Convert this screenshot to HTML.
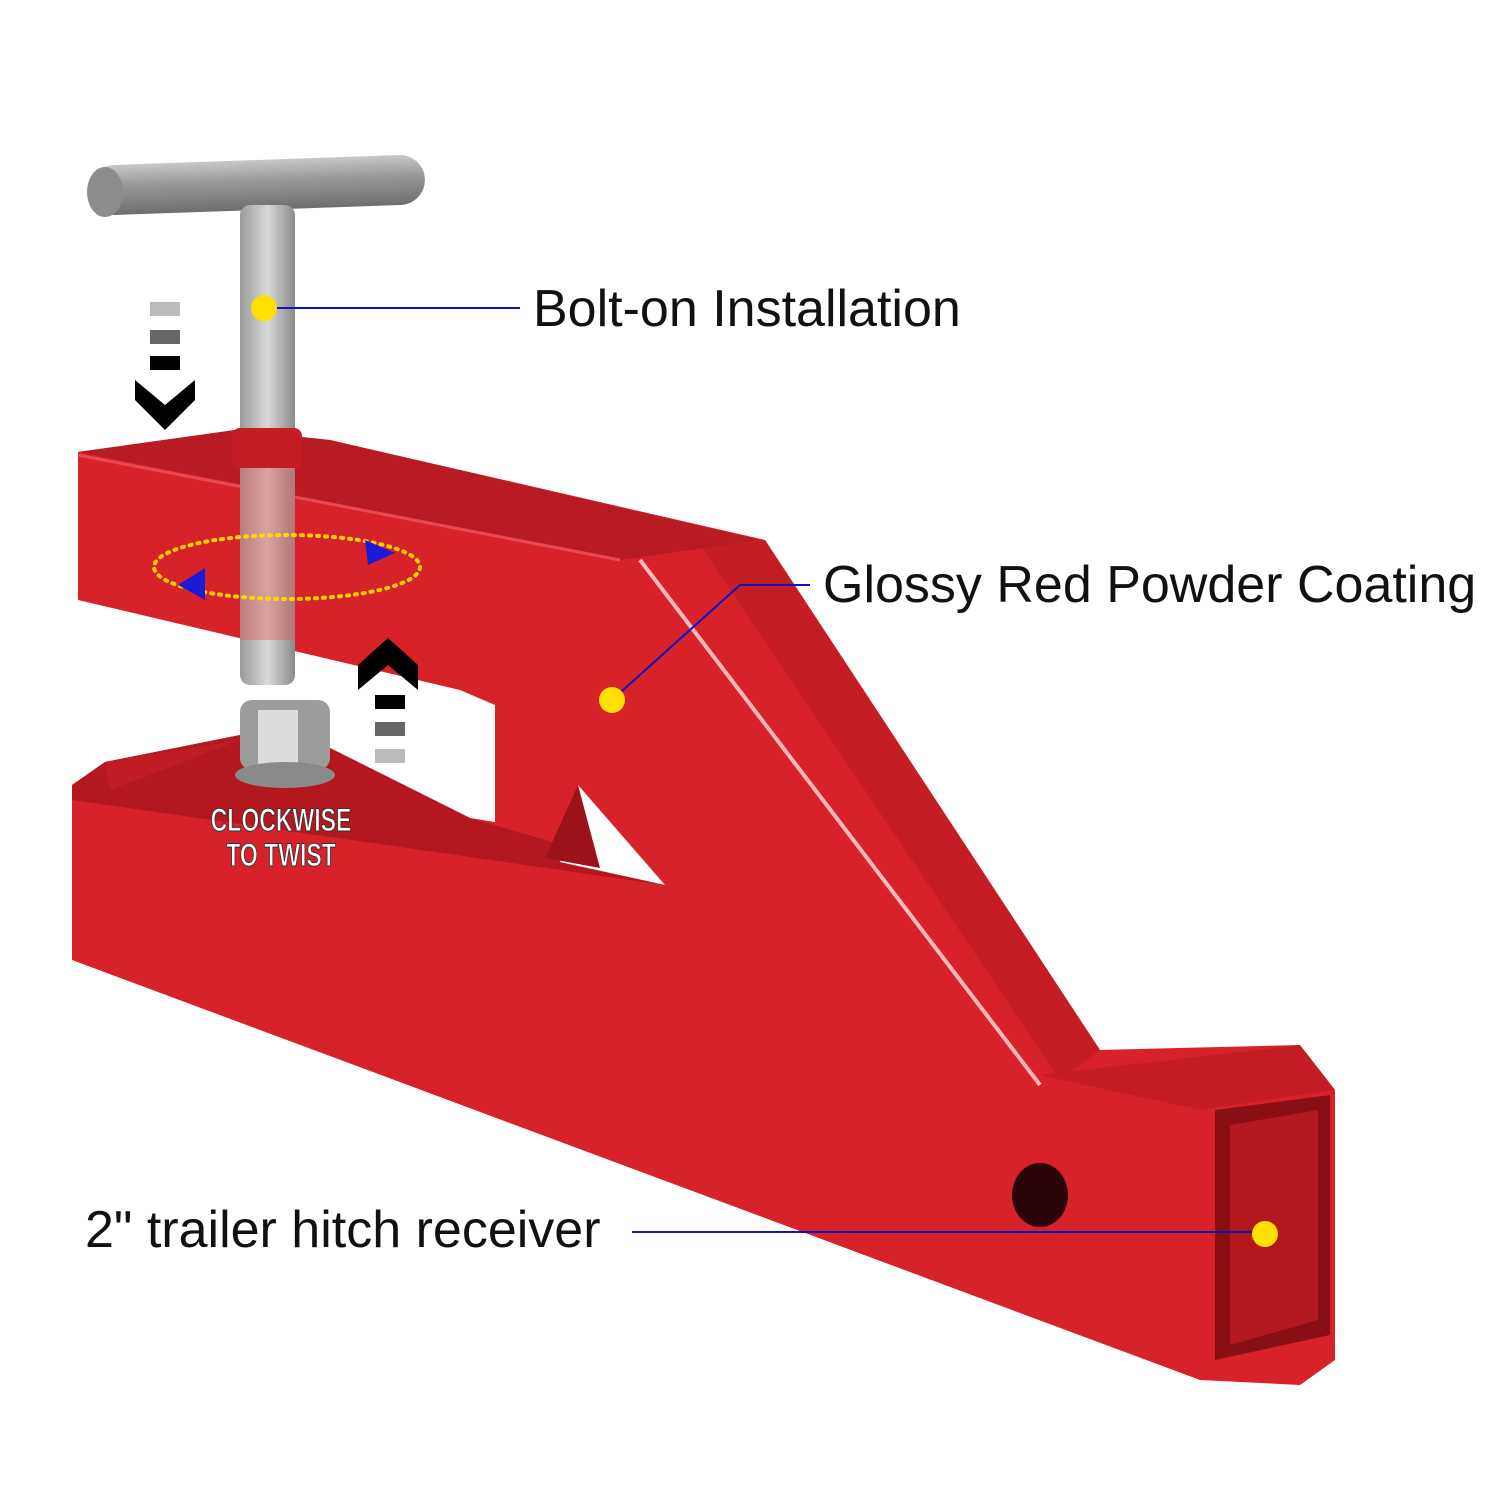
<!DOCTYPE html>
<html><head><meta charset="utf-8"><style>
html,body{margin:0;padding:0;background:#fff;}
svg{display:block;}
text{font-family:"Liberation Sans",Arial,sans-serif;}
</style></head><body>
<svg width="1500" height="1500" viewBox="0 0 1500 1500" xmlns="http://www.w3.org/2000/svg">
<defs>
<linearGradient id="cyl" x1="0" y1="0" x2="0" y2="1">
<stop offset="0" stop-color="#c8c8c8"/><stop offset="0.4" stop-color="#9a9a9a"/><stop offset="1" stop-color="#6e6e6e"/></linearGradient>
<linearGradient id="bolt" x1="0" y1="0" x2="1" y2="0">
<stop offset="0" stop-color="#9a9a9a"/><stop offset="0.5" stop-color="#d8d8d8"/><stop offset="1" stop-color="#8a8a8a"/></linearGradient>
</defs>
<rect width="1500" height="1500" fill="#fff"/>

<polygon points="78,452 235,430 330,440 765,540 1100,1050 1300,1045 1335,1090 1335,1360 1300,1385 1200,1380 72,960 72,785 78,600" fill="#d8222a"/>
<polygon points="60,598 78,600 460,690 495,705 495,822 470,818 330,748 240,735 105,762 72,785 60,785" fill="#fff"/>
<polygon points="72,785 105,762 240,735 330,748 470,818 580,850 665,885 72,800" fill="#b3181f"/>
<polygon points="105,762 110,790 240,740" fill="#c01c23"/>
<polygon points="578,785 665,885 560,862" fill="#fff"/>
<polygon points="578,785 545,858 600,868" fill="#9c1218"/>
<polygon points="700,545 765,540 1100,1050 1060,1080" fill="#c51d24"/>
<line x1="640" y1="560" x2="1040" y2="1085" stroke="#f6b8b8" stroke-width="4"/>
<polygon points="78,452 235,430 330,440 760,540 620,560" fill="#b81b22"/>
<line x1="78" y1="455" x2="620" y2="560" stroke="#e84a50" stroke-width="3"/>
<polygon points="1040,1075 1300,1045 1335,1090 1200,1110" fill="#c41e24"/>
<polygon points="1215,1110 1330,1095 1330,1335 1215,1360" fill="#8a0f14"/>
<polygon points="1230,1125 1318,1110 1318,1320 1230,1345" fill="#b3181f"/>
<ellipse cx="1040" cy="1195" rx="28" ry="32" fill="#2a0406"/>

<rect x="90" y="160" width="335" height="50" rx="25" fill="url(#cyl)" transform="rotate(-2 257 185)"/>
<ellipse cx="105" cy="192" rx="18" ry="25" fill="#8c8c8c"/>
<rect x="240" y="205" width="55" height="480" rx="10" fill="url(#bolt)"/>
<rect x="240" y="440" width="55" height="200" fill="#e06060" opacity="0.45"/>
<rect x="232" y="428" width="70" height="40" rx="8" fill="#c41e24"/>
<rect x="240" y="700" width="90" height="70" rx="12" fill="#9c9c9c"/>
<rect x="258" y="710" width="40" height="55" fill="#dcdcdc"/>
<ellipse cx="285" cy="775" rx="50" ry="13" fill="#8a8a8a"/>

<ellipse cx="287" cy="567" rx="133" ry="32" fill="none" stroke="#ffd400" stroke-width="4" stroke-dasharray="2 6" stroke-linecap="round"/>
<polygon points="365,540 395,553 368,565" fill="#1b1bd6"/>
<polygon points="178,585 205,568 205,600" fill="#1b1bd6"/>

<rect x="150" y="302" width="30" height="14" fill="#bbb"/>
<rect x="150" y="330" width="30" height="14" fill="#666"/>
<rect x="150" y="356" width="30" height="14" fill="#000"/>
<polygon points="135,380 165,405 195,380 195,400 165,430 135,400" fill="#000"/>
<polygon points="358,665 388,638 418,665 418,690 388,665 358,690" fill="#000"/>
<rect x="375" y="695" width="30" height="14" fill="#000"/>
<rect x="375" y="722" width="30" height="14" fill="#666"/>
<rect x="375" y="749" width="30" height="14" fill="#bbb"/>

<g transform="translate(281,0) scale(0.72,1)">
<text x="0" y="831" font-size="32" font-weight="bold" fill="#fff" stroke="#333" stroke-width="1" text-anchor="middle">CLOCKWISE</text>
<text x="0" y="866" font-size="32" font-weight="bold" fill="#fff" stroke="#333" stroke-width="1" text-anchor="middle">TO TWIST</text>
</g>

<line x1="265" y1="308" x2="520" y2="308" stroke="#1010c0" stroke-width="2"/>
<circle cx="264" cy="308" r="13" fill="#ffe000"/>
<text x="533" y="326" font-size="52" fill="#111">Bolt-on Installation</text>

<polyline points="612,700 740,585 810,585" fill="none" stroke="#1010c0" stroke-width="2"/>
<circle cx="612" cy="700" r="13" fill="#ffe000"/>
<text x="823" y="602" font-size="52" fill="#111">Glossy Red Powder Coating</text>

<line x1="632" y1="1232" x2="1265" y2="1232" stroke="#1010c0" stroke-width="2"/>
<circle cx="1265" cy="1234" r="13" fill="#ffe000"/>
<text x="85" y="1247" font-size="52" fill="#111">2" trailer hitch receiver</text>
</svg>
</body></html>
